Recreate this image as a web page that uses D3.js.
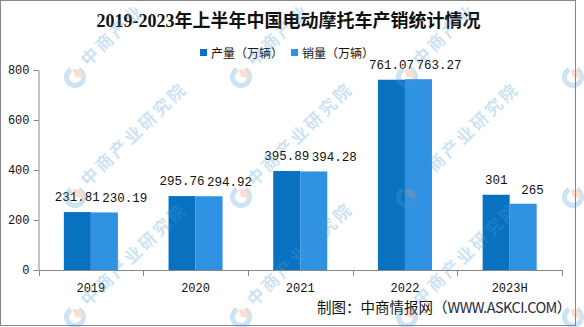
<!DOCTYPE html>
<html>
<head>
<meta charset="utf-8">
<script src="https://cdn.jsdelivr.net/npm/d3@7"></script>
<style>
  html, body { margin: 0; padding: 0; background: #fff; }
  svg { display: block; }
</style>
</head>
<body>
<svg id="chart" width="584" height="327"></svg>
<script>
// Chart data
const categories = ["2019", "2020", "2021", "2022", "2023H"];
const seriesNames = ["产量（万辆）", "销量（万辆）"];
const production = [231.81, 295.76, 395.89, 761.07, 301];
const sales = [230.19, 294.92, 394.28, 763.27, 265];
const yTicks = [0, 200, 400, 600, 800];

const colors = ["#0872C1", "#2E91E1"];
const axisColor = "#878787";
const numFont = "'Liberation Mono', 'DejaVu Sans Mono', monospace";
const cjkFont = "'Noto Sans CJK SC', 'Noto Sans', sans-serif";
const W = 584, H = 327;

const svg = d3.select("#chart");

// Outer frame
svg.append("rect")
  .attr("x", 0.5).attr("y", 0.5)
  .attr("width", 575).attr("height", 325)
  .attr("fill", "#fff")
  .attr("stroke", axisColor).attr("stroke-width", 1);

// Scales
const plot = { left: 38.5, right: 562, top: 70, bottom: 270 };
const x0 = d3.scaleBand().domain(categories).range([plot.left, plot.right]).padding(0);
const bw = x0.bandwidth();
const x1 = d3.scaleBand().domain([0, 1]).range([bw * 0.242, bw * 0.758]).padding(0);
const y = d3.scaleLinear().domain([0, 800]).range([plot.bottom, plot.top]);

// Title
svg.append("text")
  .attr("x", 288.5).attr("y", 27)
  .attr("text-anchor", "middle")
  .attr("font-family", "'Liberation Serif', 'Noto Sans CJK SC', serif")
  .attr("font-weight", "bold")
  .attr("font-size", 18)
  .attr("fill", "#111")
  .text("2019-2023年上半年中国电动摩托车产销统计情况");

// Legend
const legendX = [200, 291];
seriesNames.forEach((name, i) => {
  const g = svg.append("g").attr("transform", `translate(${legendX[i]},0)`);
  g.append("rect").attr("x", 0).attr("y", 49).attr("width", 7).attr("height", 7).attr("fill", colors[i]);
  g.append("text").attr("x", 11).attr("y", 57.5)
    .attr("font-family", cjkFont).attr("font-size", 12).attr("fill", "#111")
    .text(name);
});

// Y axis
const yAxis = d3.axisLeft(y).tickValues(yTicks).tickSize(5).tickSizeOuter(0).tickPadding(4);
const gy = svg.append("g").attr("transform", `translate(${plot.left},0)`).call(yAxis);
gy.select(".domain").attr("stroke", axisColor);
gy.selectAll(".tick line").attr("stroke", axisColor);
gy.selectAll(".tick text")
  .attr("font-family", numFont).attr("font-size", 12).attr("fill", "#111");

// X axis: baseline, boundary ticks and category labels
const gx = svg.append("g");
gx.append("line")
  .attr("x1", plot.left).attr("x2", plot.right)
  .attr("y1", plot.bottom + 0.5).attr("y2", plot.bottom + 0.5)
  .attr("stroke", axisColor);
const bounds = categories.map(c => x0(c)).concat([plot.right]);
gx.selectAll("line.b").data(bounds).enter().append("line")
  .attr("class", "b")
  .attr("x1", d => Math.round(d) + 0.5).attr("x2", d => Math.round(d) + 0.5)
  .attr("y1", plot.bottom).attr("y2", plot.bottom + 6)
  .attr("stroke", axisColor);
gx.selectAll("text").data(categories).enter().append("text")
  .attr("x", d => x0(d) + bw / 2)
  .attr("y", 292)
  .attr("text-anchor", "middle")
  .attr("font-family", numFont).attr("font-size", 12).attr("fill", "#111")
  .text(d => d);

// Bars
const series = [production, sales];
series.forEach((vals, si) => {
  svg.append("g").selectAll("rect").data(vals).enter().append("rect")
    .attr("x", (d, i) => x0(categories[i]) + x1(si))
    .attr("y", d => y(d))
    .attr("width", x1.bandwidth())
    .attr("height", d => y(0) - y(d))
    .attr("fill", colors[si]);
});

// Value labels
const fmt = v => String(v);
svg.append("g").selectAll("text").data(production).enter().append("text")
  .attr("x", (d, i) => x0(categories[i]) + x1(0) + x1.bandwidth() / 2)
  .attr("y", d => y(d) - 11)
  .attr("text-anchor", "middle")
  .attr("font-family", numFont).attr("font-size", 12.5).attr("fill", "#111")
  .text(fmt);
svg.append("g").selectAll("text").data(sales).enter().append("text")
  .attr("x", (d, i) => x0(categories[i]) + x1(1) + x1.bandwidth() / 2 - 2)
  .attr("y", d => y(d) - 10)
  .attr("text-anchor", "start")
  .attr("font-family", numFont).attr("font-size", 12.5).attr("fill", "#111")
  .text(fmt);

// Source note
const src = svg.append("text")
  .attr("x", 317).attr("y", 313)
  .attr("font-family", cjkFont).attr("font-size", 14.5).attr("fill", "#111");
src.append("tspan").text("制图：中商情报网（");
src.append("tspan").attr("letter-spacing", -0.6).attr("fill", "#1d2b44").text("WWW.ASKCI.COM");
src.append("tspan").text("）");

// Watermark tiles: logo mark followed by a diagonal name, one glyph at a time,
// keeping only the glyphs that fall inside the canvas
const wmX = [75, 241, 407, 573];
const wmY = [77, 197, 317];
const wmName = Array.from("中商产业研究院");
const ang = -44 * Math.PI / 180, step = 20, wmSize = 17;
const wm = svg.append("g").attr("pointer-events", "none");
wmY.forEach(cy => wmX.forEach(cx => {
  const g = wm.append("g").attr("opacity", 0.28);
  const logo = g.append("g").attr("transform", `translate(${cx},${cy})`);
  logo.append("path")
    .attr("d", d3.arc().innerRadius(6).outerRadius(11)({ startAngle: Math.PI * 0.15, endAngle: Math.PI * 1.85 }))
    .attr("fill", "#4f9ad6");
  logo.append("path")
    .attr("d", d3.arc().innerRadius(0).outerRadius(8)({ startAngle: -Math.PI * 0.1, endAngle: Math.PI * 0.55 }))
    .attr("fill", "#f08a5d");
  wmName.forEach((ch, k) => {
    const d = 12 + k * step;
    const px = cx + 13 + d * Math.cos(ang) - 12 * Math.cos(ang);
    const py = cy - 10 + d * Math.sin(ang) - 12 * Math.sin(ang);
    // glyph centre (baseline shifted up by ~0.4em in rotated frame)
    const gcx = px + (wmSize / 2) * Math.cos(ang) + 0.4 * wmSize * Math.sin(ang);
    const gcy = py + (wmSize / 2) * Math.sin(ang) - 0.4 * wmSize * Math.cos(ang);
    if (gcx < 10 || gcx > W - 10 || gcy < 10 || gcy > H - 10) return;
    g.append("text")
      .attr("transform", `translate(${px},${py}) rotate(-44)`)
      .attr("font-family", cjkFont).attr("font-weight", "bold").attr("font-size", wmSize)
      .attr("fill", "#4f9ad6")
      .text(ch);
  });
}));
</script>
</body>
</html>
